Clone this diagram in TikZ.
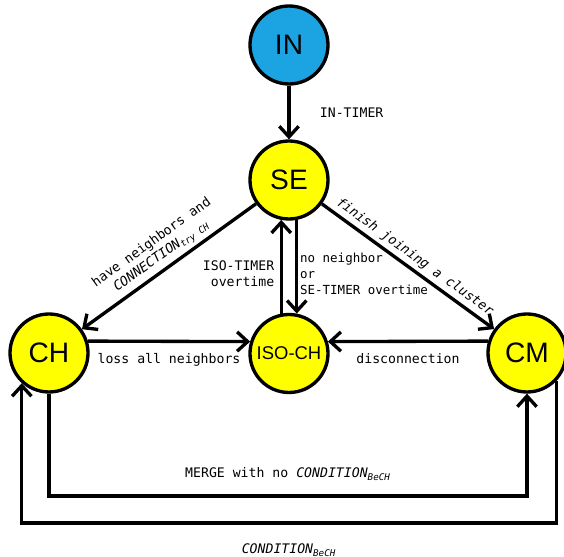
\documentclass[tikz,border=0pt]{standalone}
\usepackage{fontspec}
\setmainfont{Liberation Sans}
\newfontfamily\labelfont{DejaVu Sans Mono}
\usepackage{xcolor}
\usepackage{tikz}
\usetikzlibrary{arrows.meta,positioning,calc}

\definecolor{inblue}{RGB}{27,163,226}
\definecolor{stateyellow}{RGB}{255,255,0}

\begin{document}
\begin{tikzpicture}[
    state/.style={circle, draw=black, line width=1.9pt, fill=stateyellow, minimum size=1.56cm, inner sep=0pt, font=\fontsize{16}{18}\selectfont},
    initstate/.style={state, fill=inblue},
    trans/.style={line width=1.9pt, -{Straight Barb[length=6pt,width=11pt,line width=1.9pt]}},
    lbl/.style={font=\labelfont\fontsize{7.5}{9.2}\selectfont, inner sep=1pt}
]
\useasboundingbox (0,0) rectangle (11.28,11.14);

% States
\node[initstate] (in) at (5.78,10.24) {IN};
\node[state] (se) at (5.78,7.54) {SE};
\node[state] (ch) at (0.98,4.08) {CH};
\node[state, font=\fontsize{10.5}{12}\selectfont] (iso) at (5.78,4.07) {ISO-CH};
\node[state] (cm) at (10.54,4.08) {CM};

% Loop levels
\coordinate (low1) at (0,1.22);
\coordinate (low2) at (0,0.68);

% Transitions
\draw[trans] (in) -- (se) node[lbl, midway, right, xshift=0.55cm] {IN-TIMER};
\draw[trans] (se) -- (ch) node[lbl, midway, sloped, above, align=center, yshift=1pt] {have neighbors and\\{\itshape CONNECTION}\textsubscript{\itshape try CH}};
\draw[trans] (se) -- (cm) node[lbl, midway, sloped, above, yshift=1pt] {\itshape finish joining a cluster};
\draw[trans] (iso.101) -- (se.259) node[lbl, midway, left, align=right, xshift=-2pt, yshift=-4pt] {ISO-TIMER\\overtime};
\draw[trans] (se.281) -- (iso.79) node[lbl, midway, right, align=left, xshift=0pt, yshift=-4pt, font=\labelfont\fontsize{7.1}{9}\selectfont] {no neighbor\\or\\SE-TIMER overtime};
\draw[trans] (ch.17) -- (iso.163) node[lbl, midway, below, yshift=-5pt] {loss all neighbors};
\draw[trans] (cm.163) -- (iso.17) node[lbl, midway, below, yshift=-5pt] {disconnection};

% Merge loops
\draw[trans] (ch.south) -- (ch.south |- low1) -| (cm.south)
    node[lbl, pos=0.25, above, yshift=7pt] {MERGE with no {\itshape CONDITION}\textsubscript{\itshape BeCH}};
\draw[trans] (cm.316) -- (cm.316 |- low2) -| (ch.228)
    node[lbl, pos=0.25, below, yshift=-10pt] {{\itshape CONDITION}\textsubscript{\itshape BeCH}};

\end{tikzpicture}
\end{document}
